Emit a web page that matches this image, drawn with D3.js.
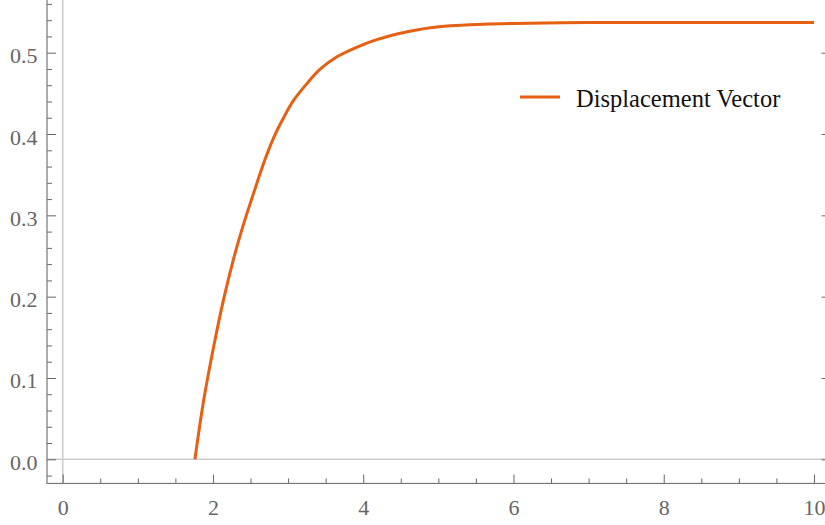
<!DOCTYPE html>
<html>
<head>
    <title>Displacement Vector</title>
    <script src="https://d3js.org/d3.v7.min.js"></script>
    <style>
        body { margin: 0; background: #fff; }
        svg { display: block; }
    </style>
</head>
<body>
    <div id="chart"></div>

    <script>
        // Values
        const xValues = [1.76, 1.87, 2.0, 2.14, 2.27, 2.4, 2.54, 2.69, 2.81, 2.94, 3.07, 3.25, 3.43,
                         3.65, 3.92, 4.18, 4.45, 4.71, 5.16, 5.6, 6.0, 7.0, 8.0, 9.0, 10.0];
        const yValues = [0, 0.069, 0.134, 0.196, 0.245, 0.287, 0.327, 0.368, 0.396, 0.420, 0.441, 0.462, 0.480,
                         0.495, 0.507, 0.516, 0.523, 0.528, 0.533, 0.535, 0.536, 0.537, 0.537, 0.537, 0.537];
        const xMajorTicks = [0, 2, 4, 6, 8, 10];
        const xMinorTicks = [0.5, 1, 1.5, 2.5, 3, 3.5, 4.5, 5, 5.5, 6.5, 7, 7.5, 8.5, 9, 9.5];
        const yMajorTicks = [0, 0.1, 0.2, 0.3, 0.4, 0.5];
        const yMinorTicks = [-0.02, 0.02, 0.04, 0.06, 0.08, 0.12, 0.14, 0.16, 0.18, 0.22, 0.24, 0.26, 0.28,
                             0.32, 0.34, 0.36, 0.38, 0.42, 0.44, 0.46, 0.48, 0.52, 0.54, 0.56, 0.58, 0.62, 0.64];
        const seriesName = "Displacement Vector";

        const width = 825;
        const height = 525;
        const lineColor = "#e65f12";
        const serif = "'Liberation Serif', 'Times New Roman', Times, serif";

        const svg = d3.select("#chart")
            .append("svg")
            .attr("width", width)
            .attr("height", height);

        const x = d3.scaleLinear().domain([0, 10]).range([62.7, 814]);
        const y = d3.scaleLinear().domain([0, 0.5]).range([459.3, 52.7]);

        // frame edges (plot range incl. padding)
        const frameL = x(-0.209), frameR = x(10.22);
        const frameB = y(-0.0297), frameT = y(0.668);

        // axes through origin
        svg.append("line")
            .attr("x1", x(0)).attr("x2", x(0))
            .attr("y1", frameT).attr("y2", frameB)
            .attr("stroke", "#cccccc").attr("stroke-width", 1.6);
        svg.append("line")
            .attr("x1", frameL).attr("x2", frameR)
            .attr("y1", y(0)).attr("y2", y(0))
            .attr("stroke", "#cccccc").attr("stroke-width", 1.6);

        function styleAxis(g) {
            g.attr("font-family", serif);
            g.select(".domain").remove();
            g.selectAll(".tick line").attr("stroke", "#666").attr("stroke-width", 1);
        }

        // bottom
        svg.append("g")
            .attr("transform", `translate(0,${frameB})`)
            .call(d3.axisBottom(x).tickValues(xMajorTicks).tickSize(-9).tickFormat(d3.format("d")))
            .call(styleAxis)
            .call(g => g.selectAll(".tick text")
                .attr("y", 31.5).attr("dy", null)
                .attr("fill", "#666")
                .style("font-family", serif)
                .style("font-size", "22px"));
        svg.append("g")
            .attr("transform", `translate(0,${frameB})`)
            .call(d3.axisBottom(x).tickValues(xMinorTicks).tickSize(-5).tickFormat(""))
            .call(styleAxis);

        // top
        svg.append("g")
            .attr("transform", `translate(0,${frameT})`)
            .call(d3.axisTop(x).tickValues(xMajorTicks).tickSize(-9).tickFormat(""))
            .call(styleAxis);
        svg.append("g")
            .attr("transform", `translate(0,${frameT})`)
            .call(d3.axisTop(x).tickValues(xMinorTicks).tickSize(-5).tickFormat(""))
            .call(styleAxis);

        // left
        svg.append("g")
            .attr("transform", `translate(${frameL},0)`)
            .call(d3.axisLeft(y).tickValues(yMajorTicks).tickSize(-9).tickFormat(d3.format(".1f")))
            .call(styleAxis)
            .call(g => g.selectAll(".tick text")
                .attr("x", -9.5).attr("dy", null).attr("y", 10)
                .attr("fill", "#666")
                .style("font-family", serif)
                .style("font-size", "22px"));
        svg.append("g")
            .attr("transform", `translate(${frameL},0)`)
            .call(d3.axisLeft(y).tickValues(yMinorTicks).tickSize(-5).tickFormat(""))
            .call(styleAxis);

        // right
        svg.append("g")
            .attr("transform", `translate(${frameR},0)`)
            .call(d3.axisRight(y).tickValues(yMajorTicks).tickSize(-9).tickFormat(""))
            .call(styleAxis);
        svg.append("g")
            .attr("transform", `translate(${frameR},0)`)
            .call(d3.axisRight(y).tickValues(yMinorTicks).tickSize(-5).tickFormat(""))
            .call(styleAxis);

        // frame
        svg.append("rect")
            .attr("x", frameL).attr("y", frameT)
            .attr("width", frameR - frameL).attr("height", frameB - frameT)
            .attr("fill", "none")
            .attr("stroke", "#777").attr("stroke-width", 1.2);

        // curve
        const data = xValues.map((d, i) => [d, yValues[i]]);
        const line = d3.line()
            .x(d => x(d[0]))
            .y(d => y(d[1]))
            .curve(d3.curveCatmullRom.alpha(0.5));

        svg.append("path")
            .datum(data)
            .attr("d", line)
            .attr("fill", "none")
            .attr("stroke", lineColor)
            .attr("stroke-width", 3)
            .attr("stroke-linejoin", "round");

        // legend
        const legend = svg.append("g");
        legend.append("line")
            .attr("x1", 520).attr("x2", 560)
            .attr("y1", 97).attr("y2", 97)
            .attr("stroke", lineColor).attr("stroke-width", 3);
        legend.append("text")
            .attr("x", 576).attr("y", 106.5)
            .style("font-family", serif)
            .style("font-size", "24.5px")
            .attr("fill", "#111")
            .text(seriesName);
    </script>
</body>
</html>
